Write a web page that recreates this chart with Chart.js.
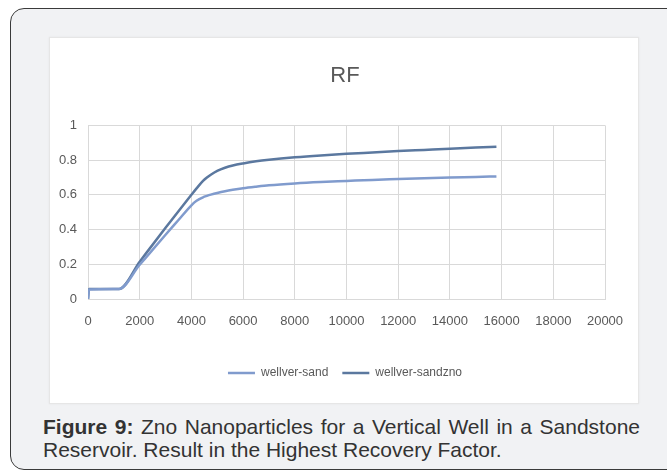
<!DOCTYPE html>
<html>
<head>
<meta charset="utf-8">
<script src="https://cdn.jsdelivr.net/npm/chart.js@4"></script>
<style>
  html, body { margin: 0; padding: 0; background: #ffffff; width: 667px; height: 470px; overflow: hidden; }
  #frame { position: absolute; left: 10px; top: 8px; width: 720px; height: 462px; box-sizing: border-box;
           border: 1.5px solid #3a3a3a; border-radius: 14px; background: #f1f2f4; }
  #panel { position: absolute; left: 49px; top: 37px; width: 590px; height: 367px; background: #ffffff;
           box-sizing: border-box; border: 1px solid #e6e6e6; box-shadow: 0 0 2px rgba(0,0,0,0.06); }
  #panel canvas { position: absolute; left: 0; top: 0; }
  #caption { position: absolute; left: 43px; top: 415px; width: 597px; font-family: "Liberation Sans", Arial, sans-serif;
             font-size: 21px; line-height: 23px; color: #333333; }
  #caption .l1 { display: block; text-align: justify; text-align-last: justify; white-space: nowrap; }
  #caption .l2 { display: block; }
  #caption b { font-weight: bold; }
</style>
</head>
<body>
<div id="frame"></div>
<div id="panel"><canvas id="c" width="590" height="367"></canvas></div>
<div id="caption"><span class="l1"><b>Figure 9:</b> Zno Nanoparticles for a Vertical Well in a Sandstone</span><span class="l2">Reservoir. Result in the Highest Recovery Factor.</span></div>
<script>
const chartTitle = "RF";
const seriesNames = ["wellver-sand", "wellver-sandzno"];
const timeValues = [0, 40, 1200, 2000, 3000, 3500, 4000, 4200, 4450, 4600, 4750, 5000, 5300, 5600, 6000, 6500, 7000, 8000, 9000, 10000, 11000, 12000, 13000, 14000, 15000, 15800];
const rfSand     = [0, 0.055, 0.058, 0.197, 0.37, 0.455, 0.54, 0.566, 0.586, 0.594, 0.601, 0.611, 0.621, 0.629, 0.638, 0.647, 0.655, 0.666, 0.674, 0.680, 0.686, 0.691, 0.696, 0.700, 0.703, 0.706];
const rfSandZno  = [0, 0.058, 0.058, 0.215, 0.41, 0.505, 0.60, 0.637, 0.680, 0.700, 0.716, 0.738, 0.756, 0.769, 0.781, 0.793, 0.802, 0.816, 0.827, 0.836, 0.844, 0.852, 0.859, 0.866, 0.872, 0.877];
const xTicks = [0, 2000, 4000, 6000, 8000, 10000, 12000, 14000, 16000, 18000, 20000];
const yTicks = [0, 0.2, 0.4, 0.6, 0.8, 1];

const fontFam = "'Liberation Sans Narrow', 'Liberation Sans', sans-serif";
const grey = "#595959";
const gridCol = "#d9d9d9";

function toPoints(xs, ys) { return xs.map((x, i) => ({ x: x, y: ys[i] })); }

new Chart(document.getElementById('c'), {
  type: 'line',
  data: {
    datasets: [
      { label: seriesNames[0], data: toPoints(timeValues, rfSand), borderColor: '#809bcd', backgroundColor: '#809bcd',
        borderWidth: 2.5, pointRadius: 0, cubicInterpolationMode: 'monotone', fill: false },
      { label: seriesNames[1], data: toPoints(timeValues, rfSandZno), borderColor: '#5b789f', backgroundColor: '#5b789f',
        borderWidth: 2.5, pointRadius: 0, cubicInterpolationMode: 'monotone', fill: false }
    ]
  },
  options: {
    responsive: false,
    animation: false,
    devicePixelRatio: 1,
    layout: { padding: { left: 0, right: 0, top: 0, bottom: 16 } },
    plugins: {
      title: { display: true, text: chartTitle, color: grey, font: { family: fontFam, size: 22, weight: 'normal' },
               padding: { top: 25, bottom: 36 } },
      legend: { position: 'bottom',
                labels: { color: grey, font: { family: fontFam, size: 12 }, usePointStyle: true, pointStyle: 'line',
                          pointStyleWidth: 27, padding: 14 } },
      tooltip: { enabled: false }
    },
    scales: {
      x: { type: 'linear', min: 0, max: 20000,
           afterBuildTicks: (s) => { s.ticks = xTicks.map(v => ({ value: v })); },
           afterFit: (s) => { s.height = 54; s.paddingRight = 35; },
           ticks: { color: grey, font: { family: fontFam, size: 13 }, padding: 15, maxRotation: 0, autoSkip: false,
                    callback: (v) => String(v) },
           grid: { color: gridCol, lineWidth: 1, drawTicks: false },
           border: { color: gridCol } },
      y: { min: 0, max: 1,
           afterBuildTicks: (s) => { s.ticks = yTicks.map(v => ({ value: v })); },
           afterFit: (s) => { s.width = 38; },
           ticks: { color: grey, font: { family: fontFam, size: 13 }, padding: 11,
                    callback: (v) => String(Math.round(v * 10) / 10) },
           grid: { color: gridCol, lineWidth: 1, drawTicks: false },
           border: { color: gridCol } }
    }
  }
});
</script>
</body>
</html>
